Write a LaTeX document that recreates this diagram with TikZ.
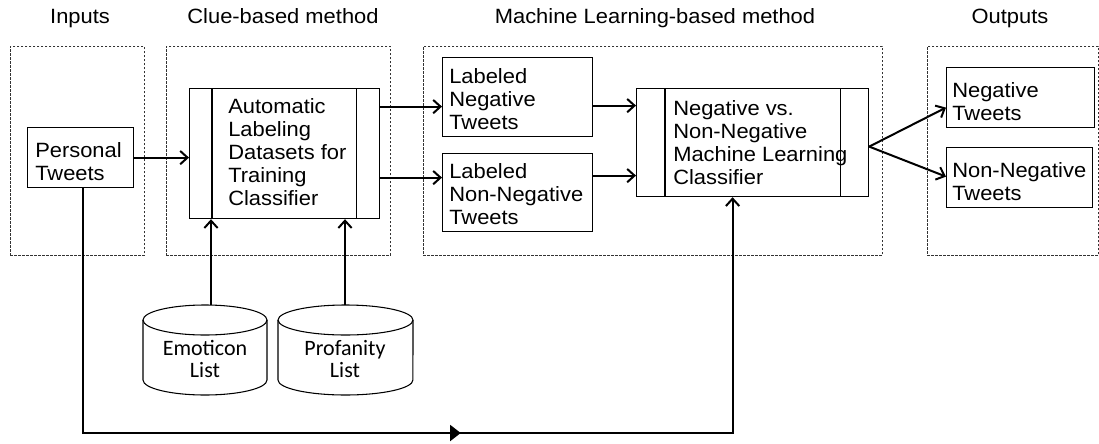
\documentclass[tikz,border=0pt]{standalone}
\usepackage{fontspec}
\setmainfont{Liberation Sans}[FakeStretch=1.06]
\newfontfamily\cylfont{Carlito}
\usetikzlibrary{arrows.meta,decorations.markings}

\begin{document}
\begin{tikzpicture}[x=0.75pt,y=-0.75pt,
  group/.style={draw=black!80, line width=0.6pt, dash pattern=on 1.8pt off 1.2pt,
                rectangle, anchor=north west, inner sep=0},
  box/.style={draw, line width=0.9pt, rectangle, anchor=north west, inner sep=0},
  txt/.style={anchor=north west, inner sep=0, align=left,
              font=\fontsize{15.5}{17.25}\selectfont},
  title/.style={anchor=base, inner sep=0, font=\fontsize{15.5}{18}\selectfont},
  cyltxt/.style={inner sep=0, align=center, font=\cylfont\fontsize{16.5}{16.5}\selectfont},
  cylline/.style={line width=0.8pt},
  conn/.style={line width=1.5pt, -{Straight Barb[length=5.5pt,width=10pt,line width=1.5pt]}},
]
\useasboundingbox (0,0) rectangle (1099,443);

% column titles
\node[title] (tin)  at (80,23)   {Inputs};
\node[title] (tclu) at (283,23)  {Clue-based method};
\node[title] (tml)  at (655,23)  {Machine Learning-based method};
\node[title] (tout) at (1010,23) {Outputs};

% dashed groups
\node[group, minimum width=100.5pt, minimum height=156.75pt] (gin)  at (10,46)  {};
\node[group, minimum width=168pt,   minimum height=156.75pt] (gclu) at (166,46) {};
\node[group, minimum width=344.25pt,minimum height=156.75pt] (gml)  at (423,46) {};
\node[group, minimum width=128.25pt,minimum height=156.75pt] (gout) at (927,46) {};

% process boxes
\node[box, minimum width=79.5pt, minimum height=45pt]    (pt)   at (27,127)  {};
\node[box, minimum width=142.5pt, minimum height=97.5pt] (auto) at (189,88)  {};
\node[box, minimum width=112.5pt, minimum height=59.25pt](lneg) at (442,57)  {};
\node[box, minimum width=112.5pt, minimum height=58.5pt] (lnon) at (442,153) {};
\node[box, minimum width=174pt,   minimum height=81pt]   (ml)   at (636,88)  {};
\node[box, minimum width=111pt,   minimum height=45pt]   (oneg) at (946,67)  {};
\node[box, minimum width=109.5pt, minimum height=45pt]   (onon) at (946,147) {};

% side bars of the predefined-process boxes
\draw[line width=0.9pt] ([xshift=17.25pt]auto.north west) -- ([xshift=17.25pt]auto.south west);
\draw[line width=0.9pt] ([xshift=-18pt]auto.north east) -- ([xshift=-18pt]auto.south east);
\draw[line width=0.9pt] ([xshift=21.75pt]ml.north west) -- ([xshift=21.75pt]ml.south west);
\draw[line width=0.9pt] ([xshift=-21.75pt]ml.north east) -- ([xshift=-21.75pt]ml.south east);

% box texts
\node[txt] (ptl)   at (35,142)  {Personal\\Tweets};
\node[txt] (autol) at (228,98)  {Automatic\\Labeling\\Datasets for\\Training\\Classifier};
\node[txt] (lnegl) at (449,68)  {Labeled\\Negative\\Tweets};
\node[txt] (lnonl) at (449,163) {Labeled\\Non-Negative\\Tweets};
\node[txt] (mll)   at (673,100) {Negative vs.\\Non-Negative\\Machine Learning\\Classifier};
\node[txt] (onegl) at (952,82)  {Negative\\Tweets};
\node[txt] (ononl) at (952,162) {Non-Negative\\Tweets};

% databases
\draw[cylline] (205,320) ellipse[x radius=46.5pt, y radius=11.25pt];
\draw[cylline] (143,320) -- (143,380)
  arc[start angle=180, end angle=360, x radius=46.5pt, y radius=11.25pt] -- (267,320);
\draw[cylline] (345.5,320) ellipse[x radius=50.6pt, y radius=11.25pt];
\draw[cylline] (278,320) -- (278,380)
  arc[start angle=180, end angle=360, x radius=50.6pt, y radius=11.25pt] -- (413,320);
\node[cyltxt] (emo) at (205,359) {Emoticon\\List};
\node[cyltxt] (prof) at (345,359) {Profanity\\List};
\coordinate (emotop)  at (211,305);
\coordinate (proftop) at (345,305);

% connectors
\draw[conn] (pt.east) -- (auto.west |- pt.east);
\draw[conn] ([yshift=35.25pt]auto.east) -- ([yshift=-7.125pt]lneg.west);
\draw[conn] ([yshift=-18pt]auto.east) -- ([yshift=11.25pt]lnon.west);
\draw[conn] ([yshift=-6.375pt]lneg.east) -- ([yshift=27.75pt]ml.west);
\draw[conn] ([yshift=12.75pt]lnon.east) -- ([yshift=-24.75pt]ml.west);
\draw[conn] ([yshift=-3pt]ml.east) -- ([yshift=-7.5pt]oneg.west);
\draw[conn] ([yshift=-3pt]ml.east) -- ([yshift=0.75pt]onon.west);
\draw[conn] (emotop) -- (emotop |- auto.south);
\draw[conn] (proftop) -- (proftop |- auto.south);

% raw tweets routed below to the classifier
\coordinate (base) at (457,433);
\draw[conn, postaction={decorate},
      decoration={markings, mark=at position 0.551 with
        {\arrow{Triangle[length=8pt,width=12pt]}}}]
  ([xshift=1.5pt]pt.south) |- (base) -| ([xshift=-15pt]ml.south);
\end{tikzpicture}
\end{document}
